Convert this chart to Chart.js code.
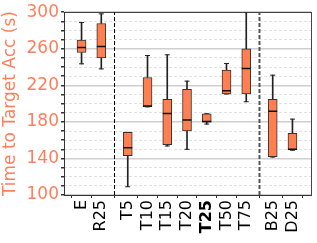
<!DOCTYPE html>
<html>
<head>
<meta charset="utf-8">
<script src="https://cdn.jsdelivr.net/npm/chart.js@4"></script>
<style>
  html, body { margin: 0; padding: 0; background: #fff; }
  #wrap { width: 317px; height: 243px; }
</style>
</head>
<body>
<div id="wrap"><canvas id="myChart"></canvas></div>
<script>
const categories = ['E', 'R25', 'T5', 'T10', 'T15', 'T20', 'T25', 'T50', 'T75', 'B25', 'D25'];
const groupStarts = [2, 9]; // index where a new group begins (dashed line before it)
const whiskerLow = [243.5, 238, 109, 196.5, 153.6, 150, 177.6, 210.5, 202, 141.5, 149];
const q1 = [255.9, 250.1, 143, 196.5, 155, 170, 179.8, 210.7, 210.7, 141.9, 149.2];
const median = [261.4, 262.5, 151.7, 197.3, 189.3, 182, 180.5, 214, 238.4, 191.5, 150];
const q3 = [269.4, 287.6, 168.5, 228.6, 204.6, 215.5, 188.9, 236.6, 259.9, 204.6, 167.4];
const whiskerHigh = [288.7, 298.2, 168.5, 252.6, 253.4, 224.6, 188.9, 243.9, 312, 231.1, 183];
const yTicks = [100, 140, 180, 220, 260, 300];

const salmon = '#ff7f5c';
const boxFill = '#ff7f50';
const ctx = document.getElementById('myChart');

// x position of each box: index plus a small extra gap between groups
const groupGap = 0.34;
const positions = categories.map((c, i) => i + groupStarts.filter(s => i >= s).length * groupGap);
const separators = groupStarts.map(s => (positions[s - 1] + positions[s]) / 2);

const pts = (arr) => arr.map((v, i) => ({ x: positions[i], y: v }));
const ranges = (lo, hi) => lo.map((v, i) => ({ x: positions[i], y: [v, hi[i]] }));

const isMajor = (v) => yTicks.includes(v);

chart = new Chart(ctx, {
  type: 'bar',
  data: {
    datasets: [
      {
        type: 'scatter',
        data: pts(median),
        pointStyle: 'line',
        radius: 4.5,
        borderColor: '#111',
        borderWidth: 1.5,
        order: 0,
      },
      {
        type: 'bar',
        data: ranges(q1, q3),
        backgroundColor: boxFill,
        borderColor: '#333',
        borderWidth: 1,
        borderSkipped: false,
        barThickness: 9,
        grouped: false,
        order: 1,
      },
      {
        type: 'scatter',
        data: pts(whiskerLow).concat(pts(whiskerHigh)),
        pointStyle: 'line',
        radius: 2.5,
        borderColor: '#222',
        borderWidth: 1,
        order: 2,
      },
      {
        type: 'bar',
        data: ranges(whiskerLow, q1).concat(ranges(q3, whiskerHigh)),
        backgroundColor: '#222',
        borderWidth: 0,
        barThickness: 1,
        grouped: false,
        order: 3,
      },
      {
        type: 'line',
        data: [{ x: separators[0], y: 100 }, { x: separators[0], y: 300 }],
        borderColor: '#000',
        borderWidth: 1,
        borderDash: [4, 2],
        pointRadius: 0,
        order: 4,
      },
      {
        type: 'line',
        data: [{ x: separators[1], y: 100 }, { x: separators[1], y: 300 }],
        borderColor: '#555',
        borderWidth: 2,
        borderDash: [4, 2],
        pointRadius: 0,
        order: 4,
      },
    ],
  },
  options: {
    responsive: true,
    maintainAspectRatio: false,
    animation: false,
    layout: { padding: { top: 12, right: 6, left: 0, bottom: 0 } },
    plugins: { legend: { display: false }, tooltip: { enabled: false } },
    scales: {
      x: {
        type: 'linear',
        min: -0.32,
        max: 11.05,
        afterBuildTicks: (scale) => { scale.ticks = positions.map(v => ({ value: v })); },
        afterFit: (scale) => { scale.height = 48; },
        ticks: {
          autoSkip: false,
          minRotation: 90,
          maxRotation: 90,
          padding: 2,
          color: '#000',
          callback: (v, i) => categories[i],
          font: (c) => ({ family: 'DejaVu Sans', size: 16, weight: c.index === 6 ? 'bold' : 'normal' }),
        },
        grid: { drawOnChartArea: false, drawTicks: true, tickLength: 3, tickColor: '#333' },
        border: { color: '#333', width: 1 },
      },
      xTop: {
        type: 'linear',
        position: 'top',
        min: -0.32,
        max: 11.05,
        ticks: { display: false },
        grid: { display: false },
        border: { color: '#444', width: 1 },
        afterFit: (scale) => { scale.height = 0; },
      },
      y: {
        min: 100,
        max: 300,
        afterFit: (scale) => { scale.width = 64; },
        ticks: {
          stepSize: 10,
          autoSkip: false,
          padding: 2,
          color: salmon,
          font: { family: 'DejaVu Sans', size: 17 },
          callback: (v) => isMajor(v) ? v : '',
        },
        title: {
          display: true,
          text: 'Time to Target Acc (s)',
          color: salmon,
          font: { family: 'DejaVu Sans', size: 17 },
          padding: { top: 0, bottom: 2 },
        },
        grid: {
          color: (c) => isMajor(c.tick.value) ? '#cfcfcf' : 'rgba(0,0,0,0)',
          lineWidth: 1.5,
          tickColor: '#333',
          tickLength: 3,
        },
        border: { color: '#333', width: 1 },
      },
      yMinor: {
        position: 'left',
        min: 100,
        max: 300,
        ticks: { display: false, stepSize: 10 },
        grid: {
          color: (c) => isMajor(c.tick.value) ? 'rgba(0,0,0,0)' : '#e2e2e2',
          drawTicks: false,
          lineWidth: 1,
        },
        border: { display: false, dash: [3, 2] },
        afterFit: (scale) => { scale.width = 0; },
      },
      yRight: {
        position: 'right',
        min: 100,
        max: 300,
        ticks: { display: false },
        grid: { display: false },
        border: { color: '#444', width: 1 },
        afterFit: (scale) => { scale.width = 0; },
      },
    },
  },
});
</script>
</body>
</html>
